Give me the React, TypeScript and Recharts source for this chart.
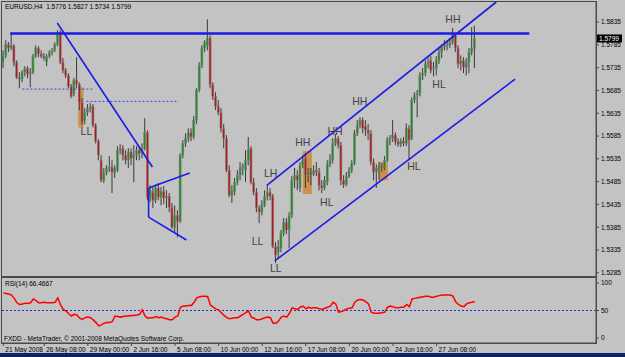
import React from "react";
import {
  Bar,
  ComposedChart,
  Line,
  ReferenceArea,
  ReferenceDot,
  ReferenceLine,
  XAxis,
  YAxis,
} from "recharts";

// EURUSD H4 candles
const opens = [
  1.5747, 1.5762, 1.5786, 1.5778, 1.5784, 1.5747, 1.5714, 1.5710, 1.5725, 1.5734,
  1.5721, 1.5725, 1.5760, 1.5778, 1.5765, 1.5760, 1.5747, 1.5760, 1.5769, 1.5773,
  1.5786, 1.5813, 1.5747, 1.5729, 1.5718, 1.5694, 1.5677, 1.5708, 1.5699, 1.5659,
  1.5620, 1.5637, 1.5646, 1.5650, 1.5609, 1.5574, 1.5532, 1.5488, 1.5506, 1.5515,
  1.5517, 1.5504, 1.5510, 1.5554, 1.5558, 1.5543, 1.5532, 1.5550, 1.5536, 1.5543,
  1.5554, 1.5547, 1.5558, 1.5593, 1.5451, 1.5462, 1.5444, 1.5471, 1.5451, 1.5464,
  1.5449, 1.5453, 1.5429, 1.5385, 1.5411, 1.5398, 1.5543, 1.5569, 1.5580, 1.5593,
  1.5583, 1.5620, 1.5686, 1.5740, 1.5778, 1.5782, 1.5800, 1.5697, 1.5672, 1.5650,
  1.5637, 1.5602, 1.5580, 1.5510, 1.5455, 1.5462, 1.5484, 1.5499, 1.5515, 1.5510,
  1.5532, 1.5558, 1.5484, 1.5462, 1.5427, 1.5418, 1.5433, 1.5453, 1.5462, 1.5453,
  1.5343, 1.5330, 1.5339, 1.5372, 1.5396, 1.5379, 1.5411, 1.5488, 1.5499, 1.5471,
  1.5521, 1.5536, 1.5499, 1.5506, 1.5501, 1.5510, 1.5506, 1.5477, 1.5471, 1.5484,
  1.5523, 1.5532, 1.5569, 1.5580, 1.5565, 1.5488, 1.5479, 1.5497, 1.5510, 1.5525,
  1.5591, 1.5609, 1.5620, 1.5607, 1.5598, 1.5591, 1.5528, 1.5506, 1.5510, 1.5519,
  1.5515, 1.5532, 1.5576, 1.5580, 1.5587, 1.5572, 1.5567, 1.5574, 1.5569, 1.5602,
  1.5580, 1.5664, 1.5675, 1.5679, 1.5718, 1.5723, 1.5743, 1.5751, 1.5734, 1.5734,
  1.5751, 1.5769, 1.5780, 1.5786, 1.5784, 1.5791, 1.5806, 1.5778, 1.5743, 1.5751,
  1.5736, 1.5747, 1.5769, 1.5776,
];

const highs = [
  1.5773, 1.5795, 1.5791, 1.5811, 1.5786, 1.5751, 1.5725, 1.5729, 1.5738, 1.5738,
  1.5734, 1.5765, 1.5784, 1.5782, 1.5773, 1.5767, 1.5765, 1.5773, 1.5778, 1.5791,
  1.5817, 1.5817, 1.5756, 1.5734, 1.5723, 1.5699, 1.5712, 1.5758, 1.5703, 1.5668,
  1.5646, 1.5655, 1.5657, 1.5655, 1.5613, 1.5578, 1.5543, 1.5515, 1.5521, 1.5541,
  1.5532, 1.5521, 1.5563, 1.5567, 1.5565, 1.5554, 1.5558, 1.5558, 1.5565, 1.5563,
  1.5561, 1.5569, 1.5624, 1.5598, 1.5477, 1.5475, 1.5479, 1.5482, 1.5473, 1.5475,
  1.5466, 1.5460, 1.5438, 1.5433, 1.5422, 1.5547, 1.5576, 1.5591, 1.5602, 1.5602,
  1.5629, 1.5690, 1.5747, 1.5784, 1.5795, 1.5841, 1.5806, 1.5703, 1.5681, 1.5664,
  1.5646, 1.5611, 1.5587, 1.5521, 1.5477, 1.5493, 1.5510, 1.5528, 1.5525, 1.5554,
  1.5583, 1.5563, 1.5493, 1.5471, 1.5433, 1.5444, 1.5466, 1.5477, 1.5471, 1.5458,
  1.5352, 1.5357, 1.5379, 1.5405, 1.5405, 1.5418, 1.5497, 1.5515, 1.5510, 1.5528,
  1.5543, 1.5547, 1.5515, 1.5515, 1.5521, 1.5528, 1.5515, 1.5488, 1.5497, 1.5532,
  1.5545, 1.5580, 1.5589, 1.5585, 1.5572, 1.5499, 1.5506, 1.5517, 1.5532, 1.5598,
  1.5620, 1.5626, 1.5626, 1.5620, 1.5611, 1.5598, 1.5536, 1.5523, 1.5528, 1.5525,
  1.5541, 1.5583, 1.5587, 1.5620, 1.5593, 1.5580, 1.5580, 1.5583, 1.5613, 1.5609,
  1.5670, 1.5681, 1.5686, 1.5725, 1.5734, 1.5751, 1.5756, 1.5760, 1.5747, 1.5760,
  1.5778, 1.5786, 1.5795, 1.5795, 1.5800, 1.5822, 1.5811, 1.5784, 1.5762, 1.5758,
  1.5756, 1.5778, 1.5824, 1.5827,
];

const lows = [
  1.5734, 1.5756, 1.5769, 1.5773, 1.5738, 1.5710, 1.5690, 1.5703, 1.5716, 1.5712,
  1.5692, 1.5721, 1.5756, 1.5758, 1.5756, 1.5751, 1.5738, 1.5756, 1.5762, 1.5769,
  1.5782, 1.5743, 1.5723, 1.5712, 1.5690, 1.5668, 1.5672, 1.5690, 1.5642, 1.5609,
  1.5611, 1.5629, 1.5637, 1.5604, 1.5569, 1.5532, 1.5484, 1.5482, 1.5499, 1.5506,
  1.5460, 1.5493, 1.5506, 1.5545, 1.5532, 1.5523, 1.5515, 1.5521, 1.5484, 1.5532,
  1.5532, 1.5536, 1.5554, 1.5444, 1.5440, 1.5427, 1.5438, 1.5444, 1.5433, 1.5436,
  1.5427, 1.5418, 1.5381, 1.5374, 1.5363, 1.5394, 1.5536, 1.5561, 1.5572, 1.5574,
  1.5578, 1.5611, 1.5681, 1.5734, 1.5769, 1.5773, 1.5690, 1.5664, 1.5642, 1.5631,
  1.5593, 1.5558, 1.5506, 1.5451, 1.5438, 1.5455, 1.5477, 1.5488, 1.5499, 1.5484,
  1.5521, 1.5479, 1.5455, 1.5418, 1.5394, 1.5411, 1.5429, 1.5444, 1.5444, 1.5339,
  1.5306, 1.5317, 1.5330, 1.5365, 1.5370, 1.5339, 1.5405, 1.5471, 1.5466, 1.5462,
  1.5515, 1.5471, 1.5484, 1.5477, 1.5497, 1.5497, 1.5466, 1.5460, 1.5466, 1.5477,
  1.5517, 1.5525, 1.5563, 1.5558, 1.5477, 1.5471, 1.5475, 1.5493, 1.5504, 1.5521,
  1.5585, 1.5602, 1.5591, 1.5585, 1.5576, 1.5521, 1.5488, 1.5471, 1.5488, 1.5506,
  1.5510, 1.5528, 1.5565, 1.5572, 1.5565, 1.5561, 1.5561, 1.5563, 1.5563, 1.5532,
  1.5576, 1.5657, 1.5626, 1.5672, 1.5708, 1.5716, 1.5734, 1.5723, 1.5716, 1.5718,
  1.5743, 1.5756, 1.5773, 1.5773, 1.5778, 1.5786, 1.5769, 1.5734, 1.5729, 1.5723,
  1.5718, 1.5723, 1.5762, 1.5734,
];

const closes = [
  1.5762, 1.5786, 1.5778, 1.5784, 1.5747, 1.5714, 1.5710, 1.5725, 1.5734, 1.5721,
  1.5725, 1.5760, 1.5778, 1.5765, 1.5760, 1.5756, 1.5760, 1.5769, 1.5773, 1.5786,
  1.5811, 1.5747, 1.5729, 1.5718, 1.5694, 1.5672, 1.5708, 1.5699, 1.5659, 1.5615,
  1.5637, 1.5646, 1.5650, 1.5609, 1.5574, 1.5543, 1.5488, 1.5506, 1.5515, 1.5517,
  1.5506, 1.5515, 1.5554, 1.5558, 1.5543, 1.5532, 1.5550, 1.5536, 1.5543, 1.5554,
  1.5547, 1.5558, 1.5593, 1.5451, 1.5466, 1.5444, 1.5471, 1.5451, 1.5464, 1.5449,
  1.5453, 1.5429, 1.5385, 1.5411, 1.5398, 1.5543, 1.5569, 1.5580, 1.5593, 1.5583,
  1.5620, 1.5686, 1.5740, 1.5778, 1.5791, 1.5800, 1.5697, 1.5672, 1.5650, 1.5637,
  1.5602, 1.5580, 1.5510, 1.5455, 1.5466, 1.5484, 1.5499, 1.5515, 1.5519, 1.5532,
  1.5554, 1.5484, 1.5462, 1.5427, 1.5418, 1.5433, 1.5453, 1.5462, 1.5453, 1.5343,
  1.5324, 1.5343, 1.5372, 1.5396, 1.5379, 1.5411, 1.5488, 1.5499, 1.5488, 1.5521,
  1.5532, 1.5499, 1.5506, 1.5501, 1.5510, 1.5506, 1.5477, 1.5471, 1.5488, 1.5523,
  1.5532, 1.5569, 1.5580, 1.5565, 1.5488, 1.5479, 1.5497, 1.5510, 1.5525, 1.5591,
  1.5609, 1.5620, 1.5602, 1.5598, 1.5591, 1.5528, 1.5506, 1.5515, 1.5519, 1.5515,
  1.5532, 1.5576, 1.5580, 1.5587, 1.5572, 1.5567, 1.5574, 1.5569, 1.5602, 1.5576,
  1.5664, 1.5675, 1.5679, 1.5718, 1.5723, 1.5743, 1.5747, 1.5729, 1.5736, 1.5751,
  1.5769, 1.5780, 1.5786, 1.5784, 1.5791, 1.5806, 1.5778, 1.5743, 1.5751, 1.5736,
  1.5747, 1.5769, 1.5778, 1.5799,
];

const rsi14 = [
  82, 81, 80, 78, 72, 64, 61, 62, 63, 63,
  64, 71, 68, 64, 64, 65, 64, 64, 64, 65,
  73, 60, 52, 49, 44, 40, 43, 42, 36, 34,
  37, 38, 37, 33, 28, 22, 24, 27, 28, 28,
  30, 40, 39, 38, 39, 40, 40, 41, 41, 42,
  43, 51, 40, 36, 37, 37, 39, 37, 38, 36,
  35, 33, 33, 38, 40, 56, 58, 58, 59, 59,
  65, 73, 75, 76, 76, 75, 60, 56, 53, 51,
  46, 41, 37, 35, 36, 37, 37, 40, 43, 46,
  49, 38, 36, 33, 33, 35, 37, 38, 37, 27,
  27, 31, 38, 40, 38, 45, 55, 53, 52, 56,
  58, 53, 56, 54, 55, 55, 53, 52, 54, 56,
  58, 65, 62, 47, 48, 50, 53, 54, 55, 65,
  69, 70, 69, 66, 62, 47, 45, 45, 45, 46,
  47, 56, 58, 57, 55, 55, 56, 56, 61, 57,
  71, 72, 73, 74, 75, 76, 76, 74, 74, 76,
  77, 78, 78, 78, 78, 76, 66, 61, 58, 57,
  62, 64, 65, 66.4667,
];

const timeLabels = [
  "21 May 2008", "26 May 08:00", "29 May 00:00", "2 Jun 16:00", "5 Jun 08:00",
  "10 Jun 00:00", "12 Jun 16:00", "17 Jun 08:00", "20 Jun 00:00", "24 Jun 16:00",
  "27 Jun 08:00",
];
const timeLabelBars = [0, 15, 31, 47, 63, 79, 95, 111, 127, 143, 159];

const priceTicks = [
  1.5285, 1.5335, 1.5385, 1.5435, 1.5485, 1.5535, 1.5585, 1.5635, 1.5685,
  1.5735, 1.5785, 1.5835,
];
const rsiTicks = [0, 50, 100];
const lastPrice = 1.5799;

// hand drawn markup: bar index / price
const trendLines = [
  { x1: 19.8, y1: 1.5833, x2: 54.7, y2: 1.5517 },
  { x1: 53.3, y1: 1.5471, x2: 68.4, y2: 1.5504 },
  { x1: 53.3, y1: 1.5471, x2: 53.3, y2: 1.5407 },
  { x1: 53.3, y1: 1.5407, x2: 67.2, y2: 1.5357 },
  { x1: 96.7, y1: 1.5477, x2: 180.9, y2: 1.5879 },
  { x1: 99.6, y1: 1.5311, x2: 187.8, y2: 1.571 },
];
const resistance = { x1: 2.5, x2: 193, price: 1.581 };
const dottedLevels = [
  { x1: 7, x2: 32.7, price: 1.5688 },
  { x1: 30.5, x2: 64.3, price: 1.5661 },
];
const highlightBoxes = [
  { x1: 27.5, x2: 29.4, y1: 1.5604, y2: 1.5692 },
  { x1: 109.9, x2: 113.2, y1: 1.5458, y2: 1.5552 },
  { x1: 137.8, x2: 141.1, y1: 1.5488, y2: 1.5528 },
];
const swingLabels = [
  { text: "LL", bar: 30.5, price: 1.5596 },
  { text: "LL", bar: 93.3, price: 1.5355 },
  { text: "LL", bar: 100, price: 1.5294 },
  { text: "LH", bar: 98.1, price: 1.5504 },
  { text: "HH", bar: 109.9, price: 1.5572 },
  { text: "HL", bar: 118.7, price: 1.544 },
  { text: "HH", bar: 121.7, price: 1.5596 },
  { text: "HH", bar: 130.8, price: 1.5662 },
  { text: "HL", bar: 150.7, price: 1.5519 },
  { text: "HL", bar: 159.9, price: 1.5699 },
  { text: "HH", bar: 165, price: 1.5841 },
];

const SLOTS = 218;
const BG = "#c3c3c3";
const FRAME = "#4a4a4a";
const LINE_BLUE = "#1c1ce8";
const FONT = "'Liberation Sans', Arial, sans-serif";

const rows = Array.from({ length: SLOTS }, (_, i) =>
  i < closes.length
    ? { i, range: [lows[i], highs[i]], o: opens[i], c: closes[i], rsi: rsi14[i] }
    : { i }
);

const Candle = (props: any) => {
  const { x, y, width, height, payload } = props;
  if (!payload || payload.o == null || !isFinite(y) || !isFinite(height)) return null;
  const top = Math.min(y, y + height);
  const h = Math.abs(height);
  const [lo, hi] = payload.range;
  const span = hi - lo || 1e-9;
  const py = (p: number) => top + ((hi - p) / span) * h;
  const cx = x + width / 2;
  const up = payload.c >= payload.o;
  const bTop = py(Math.max(payload.o, payload.c));
  const bH = Math.max(1, py(Math.min(payload.o, payload.c)) - bTop);
  return (
    <g>
      <line x1={cx} x2={cx} y1={top} y2={top + h} stroke="#3a3a3a" strokeWidth={1} />
      <rect
        x={cx - 1}
        y={bTop}
        width={2}
        height={bH}
        fill={up ? "#1e8c1e" : "#b41616"}
        stroke="#858585"
        strokeWidth={0.6}
      />
    </g>
  );
};

const TimeTick = (props: any) => {
  const { x, y, payload } = props;
  const label = timeLabels[timeLabelBars.indexOf(payload.value)];
  return (
    <g>
      <line x1={x} x2={x} y1={y} y2={y + 3} stroke={FRAME} />
      <text x={x + 2} y={y + 8.5} fontSize={6.5} fill="#000" textAnchor="start">
        {label}
      </text>
    </g>
  );
};

const PriceTag = (props: any) => {
  const vb = props.viewBox || {};
  const x = (vb.x || 0) + (vb.width || 0) + 1;
  return (
    <g>
      <rect x={x} y={vb.y - 4} width={25} height={8} fill="#000" />
      <text x={x + 2} y={vb.y + 2.3} fontSize={6.5} fill="#fff">
        {lastPrice.toFixed(4)}
      </text>
    </g>
  );
};

export default function App() {
  return (
    <div
      style={{
        position: "absolute",
        left: 0,
        top: 0,
        width: 625,
        height: 357,
        background: BG,
        overflow: "hidden",
        fontFamily: FONT,
      }}
    >
      <div style={{ position: "absolute", left: 0, top: 0 }}>
        <ComposedChart
          width={625}
          height={277}
          data={rows}
          margin={{ top: 2, right: 0, bottom: 1, left: 2 }}
        >
          <XAxis dataKey="i" hide />
          <XAxis
            xAxisId="n"
            dataKey="i"
            type="number"
            domain={[-0.5, SLOTS - 0.5]}
            allowDataOverflow
            hide
          />
          <YAxis
            orientation="right"
            width={29}
            domain={[1.5278, 1.5879]}
            allowDataOverflow
            ticks={priceTicks}
            interval={0}
            tickFormatter={(v: number) => v.toFixed(4)}
            tick={{ fontSize: 6.5, fill: "#000" }}
            tickSize={3}
            tickMargin={2}
            tickLine={{ stroke: FRAME }}
            axisLine={{ stroke: FRAME }}
          />
          {highlightBoxes.map((b, k) => (
            <ReferenceArea
              key={"box" + k}
              xAxisId="n"
              x1={b.x1}
              x2={b.x2}
              y1={b.y1}
              y2={b.y2}
              fill="#d28a3c"
              fillOpacity={0.9}
              stroke="none"
              ifOverflow="visible"
            />
          ))}
          <Bar dataKey="range" barSize={2} shape={Candle} isAnimationActive={false} />
          <ReferenceLine
            xAxisId="n"
            segment={[
              { x: resistance.x1, y: resistance.price },
              { x: resistance.x2, y: resistance.price },
            ]}
            stroke={LINE_BLUE}
            strokeWidth={2.5}
            ifOverflow="visible"
          />
          {dottedLevels.map((d, k) => (
            <ReferenceLine
              key={"dot" + k}
              xAxisId="n"
              segment={[
                { x: d.x1, y: d.price },
                { x: d.x2, y: d.price },
              ]}
              stroke="#3c3cf0"
              strokeDasharray="2 2"
              strokeWidth={1}
              ifOverflow="visible"
            />
          ))}
          {trendLines.map((t, k) => (
            <ReferenceLine
              key={"tl" + k}
              xAxisId="n"
              segment={[
                { x: t.x1, y: t.y1 },
                { x: t.x2, y: t.y2 },
              ]}
              stroke={LINE_BLUE}
              strokeWidth={1.6}
              ifOverflow="visible"
            />
          ))}
          {swingLabels.map((s, k) => (
            <ReferenceDot
              key={"sw" + k}
              xAxisId="n"
              x={s.bar}
              y={s.price}
              r={4}
              ifOverflow="visible"
              shape={(p: any) => (
                <text
                  x={p.cx}
                  y={p.cy}
                  dy="0.36em"
                  textAnchor="middle"
                  fontSize={10.5}
                  fill="#424242"
                  fontFamily={FONT}
                >
                  {s.text}
                </text>
              )}
            />
          ))}
          <ReferenceLine
            xAxisId="n"
            y={lastPrice}
            stroke="none"
            label={{ position: "right", content: (p: any) => <PriceTag {...p} /> }}
          />
        </ComposedChart>
      </div>

      <div style={{ position: "absolute", left: 0, top: 276 }}>
        <ComposedChart
          width={625}
          height={78}
          data={rows}
          margin={{ top: 2, right: 0, bottom: 0, left: 2 }}
        >
          <XAxis
            dataKey="i"
            type="number"
            domain={[-0.5, SLOTS - 0.5]}
            allowDataOverflow
            ticks={timeLabelBars}
            interval={0}
            height={11}
            tickSize={0}
            tickMargin={0}
            tickLine={false}
            axisLine={{ stroke: FRAME }}
            tick={(p: any) => <TimeTick {...p} />}
          />
          <YAxis
            orientation="right"
            width={29}
            domain={[-9, 109]}
            allowDataOverflow
            ticks={rsiTicks}
            interval={0}
            tick={{ fontSize: 6.5, fill: "#000" }}
            tickSize={3}
            tickMargin={2}
            tickLine={{ stroke: FRAME }}
            axisLine={{ stroke: FRAME }}
          />
          <ReferenceLine y={50} stroke="#2626d6" strokeDasharray="2 2" />
          <Line
            dataKey="rsi"
            stroke="#ff0000"
            strokeWidth={1.5}
            dot={false}
            isAnimationActive={false}
          />
        </ComposedChart>
      </div>

      {/* panel frames */}
      <div
        style={{
          position: "absolute",
          left: 1,
          top: 1,
          width: 596,
          height: 276,
          border: `1px solid ${FRAME}`,
          boxSizing: "border-box",
          pointerEvents: "none",
        }}
      />
      <div
        style={{
          position: "absolute",
          left: 1,
          top: 277,
          width: 596,
          height: 67,
          border: `1px solid ${FRAME}`,
          boxSizing: "border-box",
          pointerEvents: "none",
        }}
      />

      <div style={{ position: "absolute", left: 5, top: 3, fontSize: 6.5, color: "#000", whiteSpace: "pre" }}>
        EURUSD,H4  1.5776 1.5827 1.5734 1.5799
      </div>
      <div style={{ position: "absolute", left: 5, top: 280, fontSize: 6.5, color: "#000", whiteSpace: "pre" }}>
        RSI(14) 66.4667
      </div>
      <div style={{ position: "absolute", left: 4, top: 335, fontSize: 6.5, color: "#000", whiteSpace: "pre" }}>
        FXDD - MetaTrader, © 2001-2008 MetaQuotes Software Corp.
      </div>
      <div style={{ position: "absolute", left: 0, top: 353, width: 625, height: 4, background: "#0c2462" }} />
    </div>
  );
}
